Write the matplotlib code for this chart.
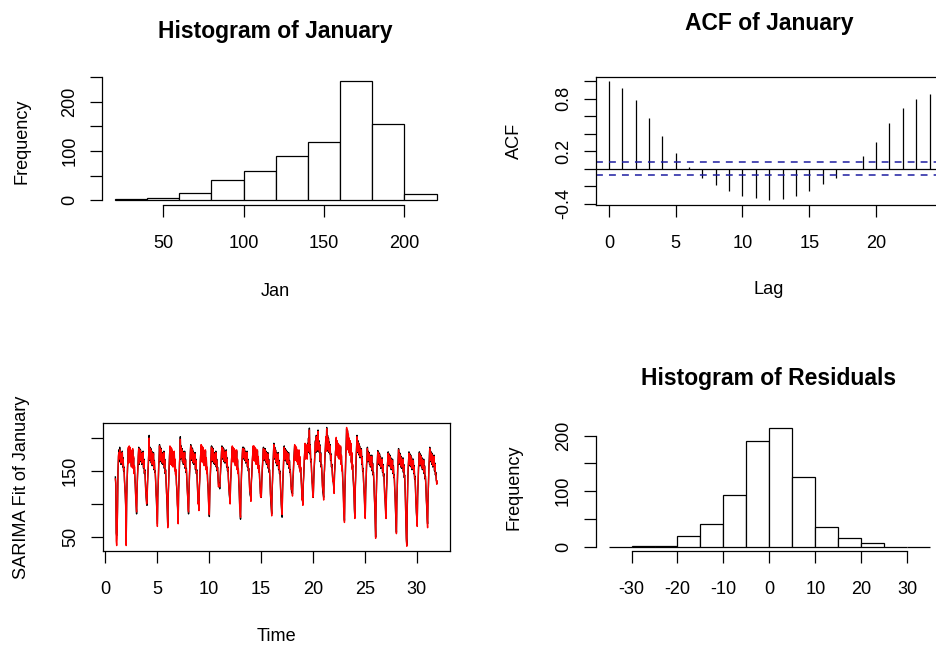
import numpy as np
import matplotlib
matplotlib.use("Agg")
import matplotlib.pyplot as plt

plt.rcParams['font.family'] = ['Liberation Sans', 'DejaVu Sans']
plt.rcParams['axes.unicode_minus'] = False

# ---- data ----
# histogram of January (bin edges and counts)
jan_edges = [20, 40, 60, 80, 100, 120, 140, 160, 180, 200, 220]
jan_counts = [2, 5, 15, 42, 60, 90, 118, 242, 155, 12]

# ACF of January, lags 0..24
acf_lags = list(range(25))
acf_vals = [1.0, 0.92, 0.79, 0.58, 0.37, 0.18, 0.02, -0.11, -0.19, -0.26, -0.31, -0.34,
            -0.36, -0.345, -0.31, -0.26, -0.17, -0.105, -0.005, 0.14, 0.31, 0.52, 0.69,
            0.80, 0.85]
acf_clim = 0.072

# histogram of residuals
res_edges = [-35, -30, -25, -20, -15, -10, -5, 0, 5, 10, 15, 20, 25, 30, 35]
res_counts = [0, 1, 2, 19, 40, 93, 190, 213, 126, 35, 16, 6, 0, 0]

# hourly January series (one row per day) and the SARIMA fitted values
jan_obs = [
    [141, 128, 56, 52, 58, 96, 150, 168, 182, 164, 186, 170, 178, 160, 176, 166, 180, 156, 170, 150, 156, 136, 126, 112],
    [96, 42, 100, 134, 152, 168, 184, 164, 186, 170, 184, 166, 180, 158, 176, 168, 182, 156, 170, 148, 156, 140, 126, 112],
    [100, 85, 122, 140, 156, 172, 186, 160, 184, 168, 182, 164, 178, 160, 176, 166, 180, 154, 168, 146, 152, 136, 124, 110],
    [104, 98, 128, 142, 160, 174, 204, 166, 186, 172, 184, 162, 180, 158, 174, 164, 178, 152, 166, 148, 150, 134, 118, 104],
    [90, 70, 112, 136, 154, 170, 190, 164, 186, 168, 184, 162, 178, 160, 176, 166, 180, 154, 168, 146, 152, 134, 122, 106],
    [86, 67, 110, 134, 152, 172, 186, 162, 184, 170, 182, 160, 178, 158, 174, 164, 178, 152, 166, 146, 150, 132, 120, 104],
    [90, 73, 116, 138, 158, 176, 202, 168, 188, 170, 184, 164, 180, 160, 176, 166, 180, 154, 168, 148, 154, 136, 124, 108],
    [96, 85, 120, 140, 158, 174, 190, 166, 186, 170, 184, 162, 180, 160, 176, 166, 178, 152, 168, 146, 152, 134, 118, 104],
    [100, 93, 124, 142, 160, 176, 188, 166, 186, 172, 184, 164, 180, 160, 178, 166, 180, 154, 168, 148, 154, 136, 124, 108],
    [94, 81, 118, 138, 158, 174, 188, 164, 186, 170, 184, 162, 178, 160, 176, 166, 180, 156, 168, 150, 156, 140, 130, 126],
    [132, 123, 140, 150, 164, 176, 188, 168, 186, 172, 184, 164, 180, 162, 178, 168, 182, 156, 170, 150, 156, 138, 128, 114],
    [108, 103, 130, 146, 162, 176, 186, 166, 184, 170, 182, 164, 180, 160, 176, 166, 180, 154, 166, 148, 152, 134, 120, 100],
    [92, 77, 118, 140, 158, 174, 186, 168, 186, 170, 184, 166, 180, 162, 178, 166, 180, 156, 168, 150, 154, 138, 126, 114],
    [112, 108, 132, 146, 162, 176, 186, 168, 186, 172, 184, 166, 182, 162, 178, 168, 180, 156, 170, 150, 156, 140, 128, 116],
    [114, 110, 134, 148, 164, 176, 186, 166, 184, 170, 184, 164, 180, 160, 176, 166, 178, 154, 168, 148, 152, 136, 120, 102],
    [94, 85, 120, 140, 158, 176, 192, 168, 186, 170, 182, 162, 178, 158, 174, 164, 178, 152, 166, 146, 150, 132, 118, 100],
    [92, 80, 118, 138, 158, 174, 188, 166, 184, 170, 182, 164, 180, 160, 176, 166, 178, 154, 166, 148, 152, 136, 126, 118],
    [120, 115, 136, 150, 164, 178, 188, 168, 186, 172, 184, 166, 180, 162, 178, 168, 180, 156, 170, 150, 154, 138, 124, 110],
    [106, 101, 130, 146, 164, 178, 190, 170, 188, 174, 186, 170, 192, 178, 200, 186, 215, 176, 190, 164, 168, 150, 138, 124],
    [114, 110, 136, 152, 170, 184, 196, 178, 204, 182, 200, 180, 212, 184, 196, 178, 190, 164, 178, 156, 160, 144, 132, 118],
    [114, 110, 140, 156, 174, 188, 200, 182, 216, 186, 204, 180, 200, 178, 194, 176, 190, 166, 176, 156, 160, 146, 138, 134],
    [126, 120, 144, 158, 174, 186, 199, 176, 194, 180, 190, 172, 188, 170, 184, 172, 186, 162, 172, 152, 156, 138, 120, 100],
    [88, 75, 118, 146, 170, 190, 214, 184, 210, 186, 204, 180, 198, 176, 194, 178, 190, 164, 176, 154, 158, 140, 128, 116],
    [92, 80, 122, 146, 168, 186, 204, 178, 196, 180, 192, 174, 188, 170, 184, 172, 184, 160, 172, 150, 154, 136, 124, 108],
    [90, 80, 118, 138, 156, 170, 186, 164, 180, 166, 178, 160, 174, 156, 170, 160, 174, 150, 162, 144, 148, 132, 116, 96],
    [70, 50, 98, 128, 150, 166, 181, 160, 178, 164, 176, 158, 172, 154, 168, 158, 170, 148, 160, 142, 146, 128, 114, 102],
    [90, 80, 116, 136, 154, 168, 179, 158, 176, 162, 174, 156, 170, 152, 166, 156, 168, 146, 158, 140, 144, 124, 110, 88],
    [72, 57, 104, 130, 152, 168, 184, 160, 178, 164, 176, 156, 172, 154, 168, 158, 170, 148, 160, 140, 144, 124, 102, 70],
    [48, 38, 92, 126, 150, 166, 179, 158, 176, 162, 174, 156, 170, 152, 166, 156, 168, 146, 158, 138, 142, 122, 106, 88],
    [80, 72, 110, 134, 152, 166, 179, 158, 176, 162, 174, 156, 170, 152, 166, 156, 168, 146, 158, 138, 142, 126, 110, 94],
    [78, 70, 108, 134, 154, 170, 186, 164, 180, 166, 178, 160, 176, 156, 172, 160, 174, 150, 162, 144, 148, 136, 134, 131],
]
jan_fit = [
    [138, 132, 44, 37, 48, 104, 146, 172, 178, 168, 182, 172, 176, 162, 174, 168, 178, 158, 168, 152, 154, 138, 122, 116],
    [90, 37, 108, 130, 156, 166, 186, 162, 188, 168, 186, 164, 182, 156, 178, 166, 184, 154, 172, 146, 158, 136, 130, 108],
    [96, 88, 118, 144, 154, 174, 184, 162, 182, 170, 180, 166, 176, 162, 174, 168, 178, 156, 166, 148, 150, 138, 120, 114],
    [100, 102, 124, 146, 158, 176, 200, 168, 184, 174, 182, 164, 178, 160, 172, 166, 176, 154, 164, 150, 148, 136, 114, 108],
    [86, 66, 116, 132, 158, 168, 188, 166, 184, 170, 182, 164, 176, 162, 174, 168, 178, 156, 166, 148, 150, 136, 118, 110],
    [90, 64, 114, 130, 156, 170, 188, 160, 186, 168, 184, 158, 180, 156, 176, 162, 180, 150, 168, 144, 152, 130, 124, 100],
    [94, 70, 120, 134, 162, 174, 198, 170, 186, 172, 182, 166, 178, 162, 174, 168, 178, 156, 166, 150, 152, 138, 120, 112],
    [92, 88, 116, 144, 156, 176, 188, 168, 184, 172, 182, 164, 178, 162, 174, 168, 176, 154, 166, 148, 150, 136, 122, 100],
    [104, 90, 128, 138, 164, 174, 190, 164, 188, 170, 186, 162, 182, 158, 180, 164, 182, 152, 170, 146, 156, 134, 128, 104],
    [90, 84, 114, 142, 156, 176, 186, 166, 184, 172, 182, 164, 176, 162, 174, 168, 178, 158, 166, 152, 154, 142, 126, 130],
    [128, 126, 136, 154, 162, 178, 186, 170, 184, 174, 182, 166, 178, 164, 176, 170, 180, 158, 168, 152, 154, 140, 124, 118],
    [112, 100, 134, 142, 166, 174, 188, 164, 186, 168, 184, 162, 182, 158, 178, 164, 182, 152, 168, 146, 154, 132, 124, 96],
    [88, 80, 114, 144, 156, 176, 184, 170, 184, 172, 182, 168, 178, 164, 176, 168, 178, 158, 166, 152, 152, 140, 122, 118],
    [116, 104, 136, 142, 166, 174, 188, 166, 188, 170, 186, 164, 184, 160, 180, 166, 182, 154, 172, 148, 158, 138, 132, 112],
    [110, 114, 130, 152, 160, 178, 184, 168, 182, 172, 182, 166, 178, 162, 174, 168, 176, 156, 166, 150, 150, 138, 116, 106],
    [98, 82, 124, 136, 162, 174, 190, 170, 184, 172, 180, 164, 176, 160, 172, 166, 176, 154, 164, 148, 148, 134, 114, 104],
    [88, 84, 114, 142, 154, 176, 186, 168, 182, 172, 180, 166, 178, 162, 174, 168, 176, 156, 164, 150, 150, 138, 122, 122],
    [124, 112, 140, 146, 168, 176, 190, 166, 188, 170, 186, 164, 182, 160, 180, 166, 182, 154, 172, 148, 156, 136, 128, 106],
    [110, 98, 134, 142, 168, 176, 192, 168, 190, 172, 188, 168, 190, 180, 198, 188, 212, 178, 188, 166, 166, 152, 134, 128],
    [110, 114, 132, 156, 166, 186, 194, 180, 202, 184, 198, 182, 210, 186, 194, 180, 188, 166, 176, 158, 158, 146, 128, 122],
    [118, 106, 144, 152, 178, 186, 202, 180, 214, 188, 202, 182, 198, 180, 192, 178, 188, 168, 174, 158, 158, 148, 134, 138],
    [130, 116, 148, 154, 178, 184, 201, 174, 196, 178, 192, 170, 190, 168, 186, 170, 188, 160, 174, 150, 158, 136, 124, 96],
    [84, 72, 122, 142, 174, 188, 216, 182, 212, 184, 206, 178, 200, 174, 196, 176, 192, 162, 178, 152, 160, 138, 132, 112],
    [96, 78, 126, 142, 172, 184, 202, 180, 194, 182, 190, 176, 186, 172, 182, 174, 182, 162, 170, 152, 152, 138, 120, 112],
    [86, 78, 122, 134, 160, 168, 184, 166, 178, 168, 176, 162, 172, 158, 168, 162, 172, 152, 160, 146, 146, 134, 112, 100],
    [74, 48, 102, 124, 154, 164, 179, 162, 176, 166, 174, 160, 170, 156, 166, 160, 168, 150, 158, 144, 144, 130, 110, 106],
    [86, 78, 120, 132, 158, 166, 177, 160, 174, 164, 172, 158, 168, 154, 164, 158, 166, 148, 156, 142, 142, 126, 106, 92],
    [76, 55, 108, 126, 156, 166, 182, 162, 176, 166, 174, 158, 170, 156, 166, 160, 168, 150, 158, 142, 142, 126, 98, 74],
    [44, 36, 96, 122, 154, 164, 177, 160, 174, 164, 172, 158, 168, 154, 164, 158, 166, 148, 156, 140, 140, 124, 102, 92],
    [76, 66, 114, 130, 156, 164, 177, 160, 174, 164, 172, 158, 168, 154, 164, 158, 166, 148, 156, 140, 140, 128, 106, 98],
    [74, 64, 112, 130, 158, 168, 184, 166, 178, 168, 176, 162, 174, 158, 170, 162, 172, 152, 160, 146, 146, 138, 130, 135],
]

# ---- layout (pixel boxes measured on the reference) ----
W, H = 936, 646
fig = plt.figure(figsize=(W / 100, H / 100), dpi=100)

FS = 13.1
TITLE_FS = 16.5
LW = 0.9


def px_axes(left, right, top, bottom):
    return fig.add_axes([left / W, 1 - bottom / H, (right - left) / W, (bottom - top) / H])


def style_axes(ax, box):
    for side in ['left', 'right', 'top', 'bottom']:
        ax.spines[side].set_visible(box or side in ('left', 'bottom'))
        ax.spines[side].set_linewidth(LW)
    ax.tick_params(direction='out', length=8.4, width=LW, labelsize=FS, colors='black')
    ax.tick_params(axis='x', pad=13.0)
    ax.tick_params(axis='y', pad=8.6)
    ax.patch.set_alpha(0)


def set_yticks(ax, ticks, labels):
    ax.set_yticks(ticks)
    ax.set_yticklabels(labels)
    for lab in ax.get_yticklabels():
        lab.set_rotation(90)
        lab.set_va('center')


def ftext(x, y, s, **kw):
    fig.text(x / W, 1 - y / H, s, **kw)


def pad_range(lo, hi):
    d = (hi - lo) * 0.04
    return lo - d, hi + d


# top left: histogram of January
ax1 = px_axes(102, 449.5, 76.5, 205)
ax1.bar(jan_edges[:-1], jan_counts, width=np.diff(jan_edges), align='edge',
        facecolor='white', edgecolor='black', linewidth=LW)
ax1.set_xlim(pad_range(jan_edges[0], jan_edges[-1]))
ax1.set_ylim(pad_range(0, max(jan_counts)))
style_axes(ax1, box=False)
ax1.set_xticks([50, 100, 150, 200])
set_yticks(ax1, [0, 50, 100, 150, 200, 250], ['0', '', '100', '', '200', ''])
ax1.spines['left'].set_bounds(0, 250)
ax1.spines['bottom'].set_bounds(50, 200)
ftext(275.5, 38, 'Histogram of January', ha='center', va='baseline', fontsize=TITLE_FS, fontweight='bold')
ftext(275.5, 296, 'Jan', ha='center', va='baseline', fontsize=FS)
ftext(22, 141, 'Frequency', ha='center', va='center', rotation=90, fontsize=FS)

# top right: ACF
ax2 = px_axes(596, 942.4, 76.5, 205)
ax2.vlines(acf_lags, 0, acf_vals, colors='black', linewidth=LW)
ax2.axhline(0, color='black', linewidth=LW)
for c in (acf_clim, -acf_clim):
    ax2.axhline(c, color='#1c1ca0', linewidth=1.1, linestyle=(0, (4.5, 4.0)))
ax2.set_xlim(pad_range(0, max(acf_lags)))
ax2.set_ylim(pad_range(min(acf_vals), max(acf_vals)))
style_axes(ax2, box=True)
ax2.set_xticks([0, 5, 10, 15, 20])
set_yticks(ax2, [-0.4, -0.2, 0.0, 0.2, 0.4, 0.6, 0.8, 1.0],
           ['-0.4', '', '', '0.2', '', '', '0.8', ''])
ftext(769, 30, 'ACF of January', ha='center', va='baseline', fontsize=TITLE_FS, fontweight='bold')
ftext(769, 294.5, 'Lag', ha='center', va='baseline', fontsize=FS)
ftext(514.5, 141, 'ACF', ha='center', va='center', rotation=90, fontsize=FS)

# bottom left: series with SARIMA fit
obs = np.concatenate(jan_obs)
fit = np.concatenate(jan_fit)
t_obs = 1 + np.arange(len(obs)) / 24
t_fit = 1 + np.arange(len(fit)) / 24
ax3 = px_axes(102.5, 450, 422.7, 551)
ax3.plot(t_obs, obs, color='black', linewidth=1.0)
ax3.plot(t_fit, fit, color='red', linewidth=1.0)
ax3.set_xlim(pad_range(t_obs[0], t_obs[-1]))
ax3.set_ylim(pad_range(min(obs.min(), fit.min()), max(obs.max(), fit.max())))
style_axes(ax3, box=True)
ax3.set_xticks([0, 5, 10, 15, 20, 25, 30])
set_yticks(ax3, [50, 100, 150, 200], ['50', '', '150', ''])
ftext(276, 641, 'Time', ha='center', va='baseline', fontsize=FS)
ftext(22, 487, 'SARIMA Fit of January', ha='center', va='center', rotation=90, fontsize=FS)

# bottom right: histogram of residuals
ax4 = px_axes(595.7, 943, 423.7, 551.4)
ax4.bar(res_edges[:-1], res_counts, width=np.diff(res_edges), align='edge',
        facecolor='white', edgecolor='black', linewidth=LW)
ax4.set_xlim(pad_range(res_edges[0], res_edges[-1]))
ax4.set_ylim(pad_range(0, max(res_counts)))
style_axes(ax4, box=False)
ax4.set_xticks([-30, -20, -10, 0, 10, 20, 30])
set_yticks(ax4, [0, 50, 100, 150, 200], ['0', '', '100', '', '200'])
ax4.spines['left'].set_bounds(0, 200)
ax4.spines['bottom'].set_bounds(-30, 30)
ftext(769, 385, 'Histogram of Residuals', ha='center', va='baseline', fontsize=TITLE_FS, fontweight='bold')
ftext(513.5, 487.5, 'Frequency', ha='center', va='center', rotation=90, fontsize=FS)

fig.savefig('out.png', dpi=100, facecolor='white')
